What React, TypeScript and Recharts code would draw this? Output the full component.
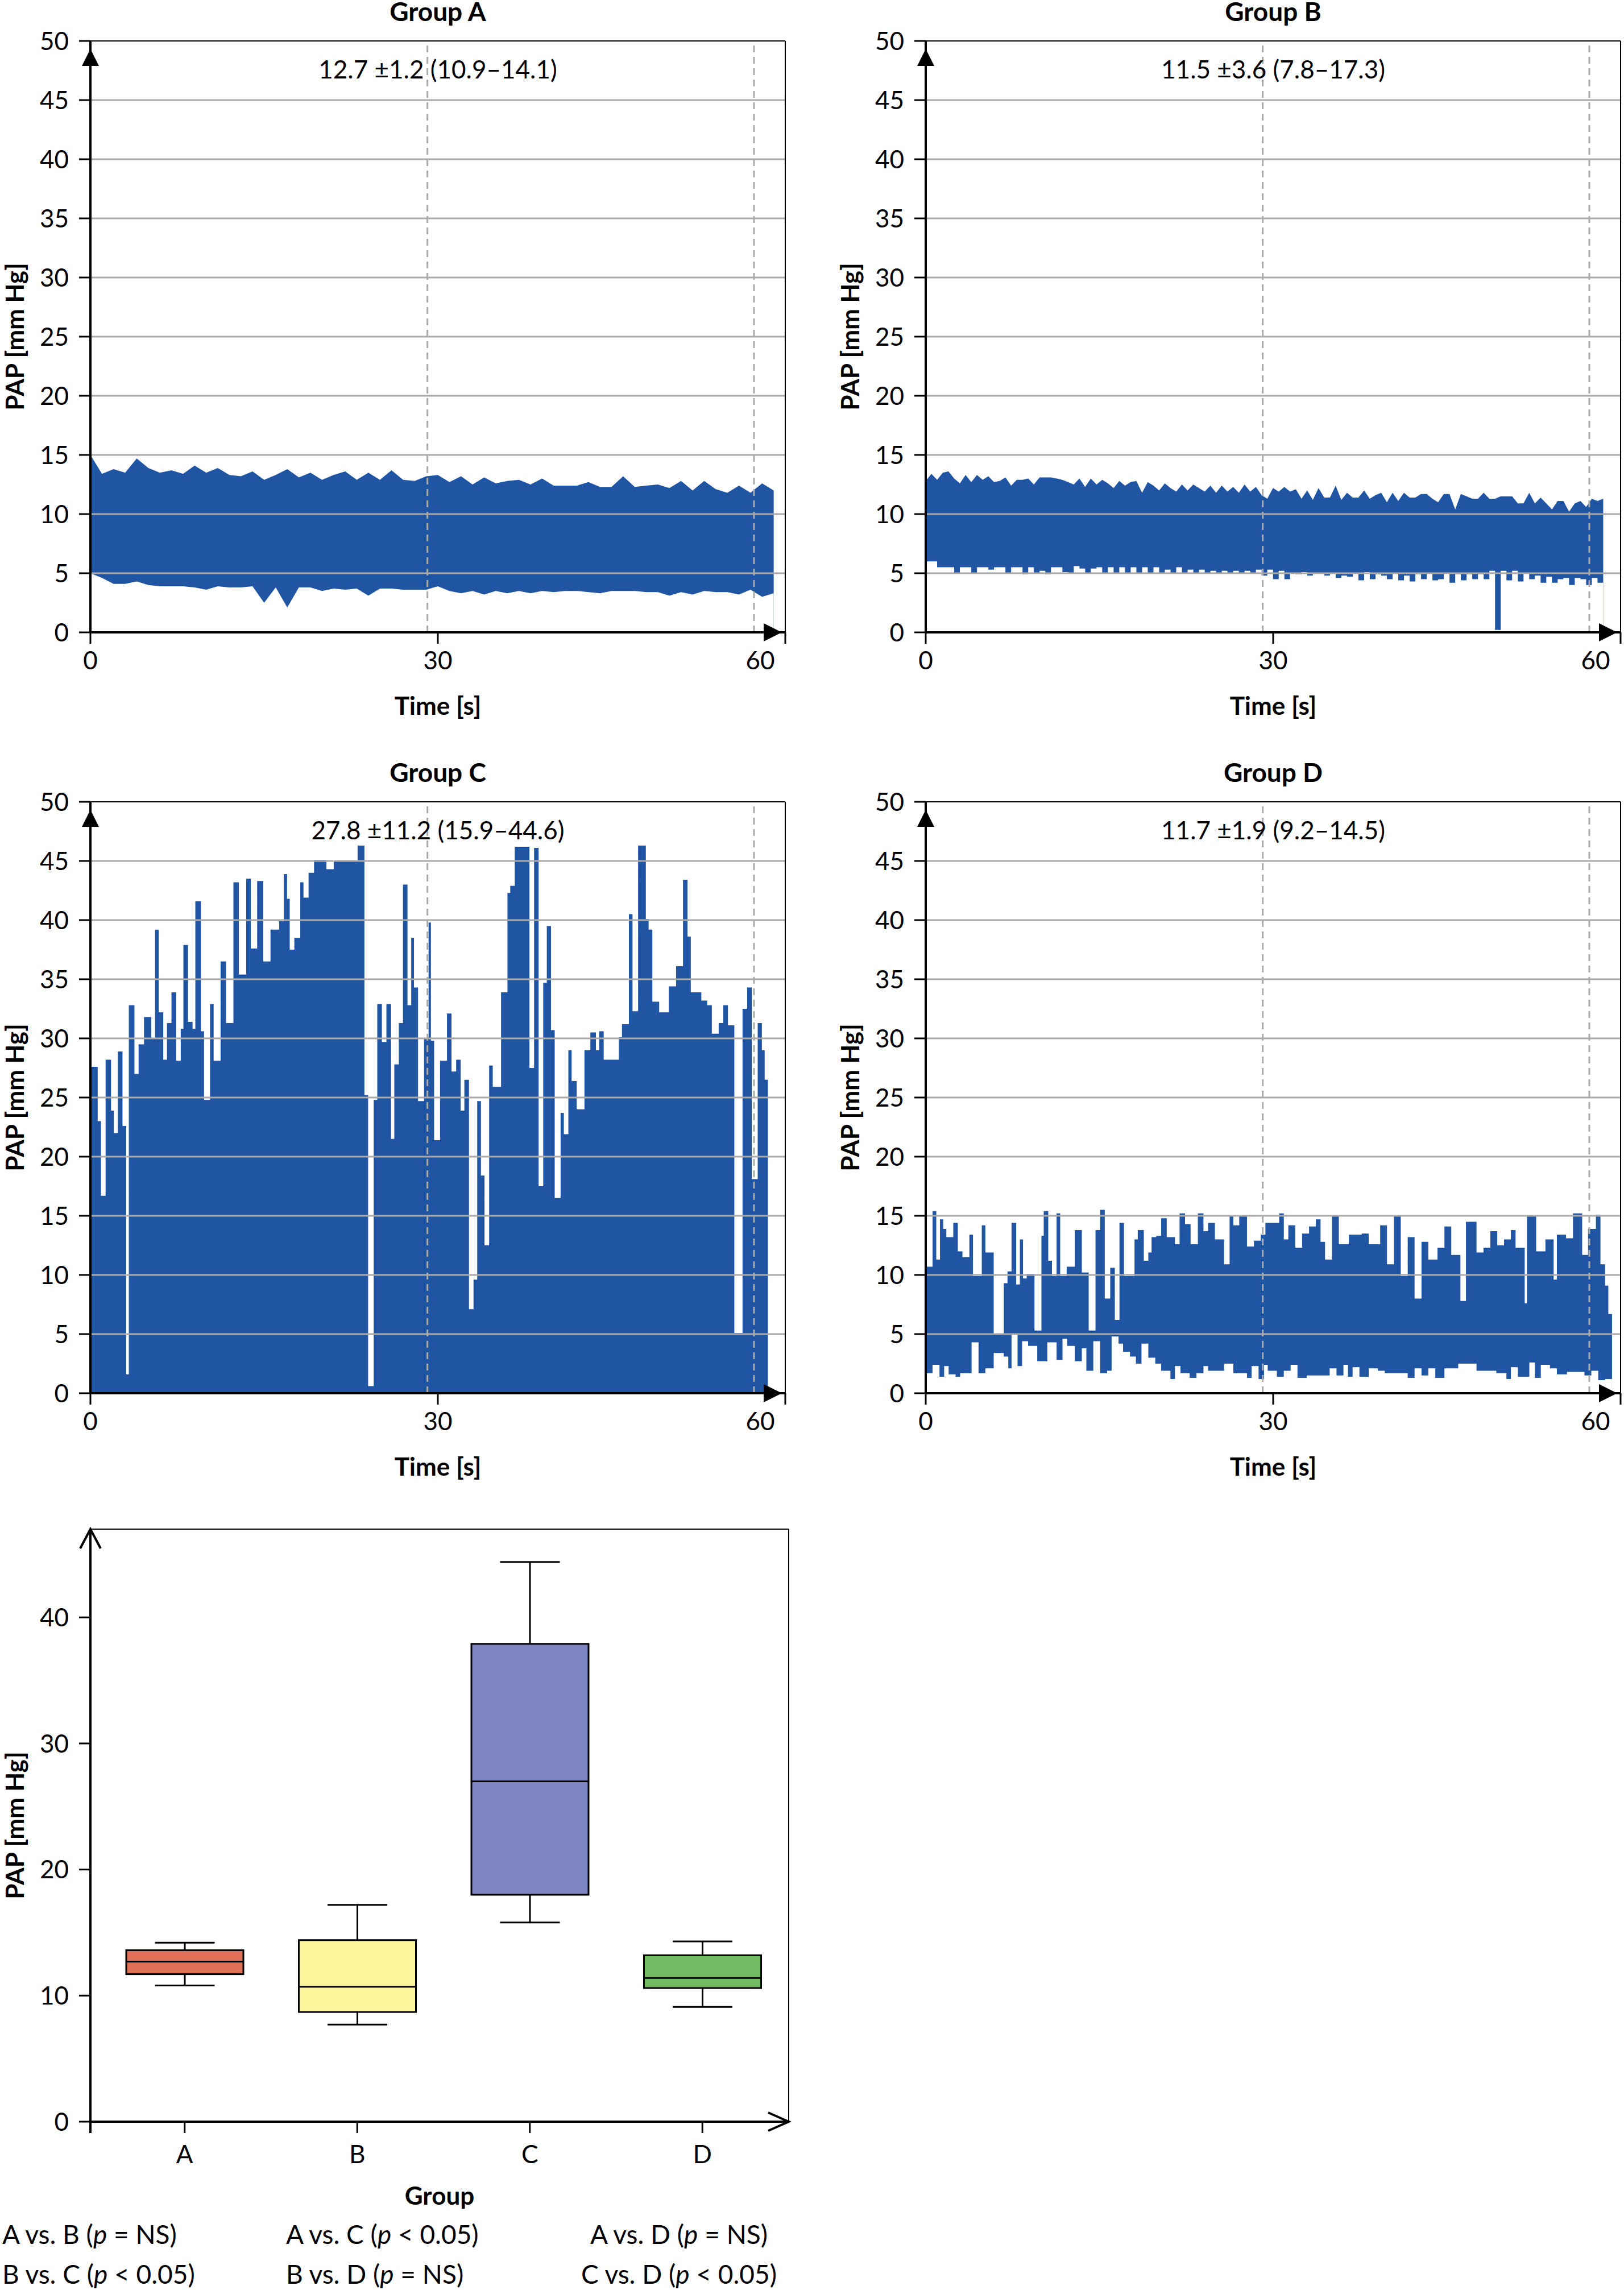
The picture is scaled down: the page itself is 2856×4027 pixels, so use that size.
import React from "react"
import { ComposedChart, Area, Bar, XAxis, YAxis, ReferenceLine } from "recharts"

const BLUE = "#1f55a3"
const GRID = "#aaaaaa"
const FONT = "Lato, 'Open Sans', sans-serif"
const FS = 44

// ---------- data ----------
const timeTicks = [0, 30, 60]
const papTicks = [0, 5, 10, 15, 20, 25, 30, 35, 40, 45, 50]
const gridLevels = [5, 10, 15, 20, 25, 30, 35, 40, 45]
const dashedTimes = [29.1, 57.3]

// Group A, one sample per second
const aHigh = [15.0, 13.4, 13.8, 13.5, 14.7, 13.9, 13.5, 13.7, 13.4, 14.1,
  13.5, 13.9, 13.3, 13.2, 13.6, 12.9, 13.3, 13.8, 13.1, 13.5,
  12.9, 13.3, 13.6, 12.9, 13.5, 12.9, 13.7, 12.9, 12.8, 13.2,
  13.3, 12.7, 13.2, 12.5, 13.1, 12.6, 12.8, 12.9, 12.5, 13.0,
  12.4, 12.4, 12.4, 12.7, 12.3, 12.3, 13.2, 12.3, 12.4, 12.5,
  12.2, 12.8, 12.0, 12.8, 12.1, 11.8, 12.4, 11.8, 12.6, 12.0]
const aLow = [5.0, 4.6, 4.1, 4.1, 4.3, 4.0, 3.9, 3.9, 3.9, 3.8,
  3.6, 3.9, 3.8, 3.8, 3.9, 2.5, 3.8, 2.1, 3.8, 3.8,
  3.5, 3.7, 3.6, 3.7, 3.1, 3.7, 3.7, 3.6, 3.6, 3.6,
  3.9, 3.5, 3.3, 3.5, 3.2, 3.5, 3.3, 3.5, 3.3, 3.5,
  3.4, 3.5, 3.5, 3.4, 3.3, 3.5, 3.5, 3.5, 3.4, 3.4,
  3.1, 3.4, 3.2, 3.5, 3.4, 3.4, 3.2, 3.6, 3.0, 3.3]

// Group B, 120 samples over 58.5 s
const bHigh = [12.8, 13.4, 12.9, 13.5, 13.6, 13.0, 12.6, 13.3, 12.7, 13.3,
  12.9, 13.2, 12.7, 12.8, 13.1, 12.4, 12.9, 12.9, 13.0, 12.5,
  13.1, 13.1, 13.1, 13.0, 12.9, 12.7, 12.5, 13.0, 12.3, 13.0,
  12.5, 12.9, 12.6, 12.2, 12.8, 12.4, 12.7, 12.8, 11.8, 12.7,
  12.4, 12.0, 12.6, 12.2, 11.9, 12.5, 12.0, 12.5, 12.2, 11.9,
  12.4, 11.8, 12.4, 11.9, 12.3, 11.8, 12.5, 11.9, 12.3, 11.6,
  11.3, 12.2, 11.9, 12.3, 11.9, 12.1, 11.3, 12.0, 11.2, 12.2,
  11.4, 11.4, 12.4, 11.2, 11.8, 11.4, 11.4, 12.0, 11.3, 11.6,
  11.8, 11.0, 11.8, 11.1, 11.8, 11.4, 11.4, 11.7, 11.7, 11.3,
  11.0, 11.7, 11.7, 10.4, 11.7, 11.5, 11.3, 11.3, 11.8, 11.3,
  11.3, 11.5, 11.5, 11.5, 10.9, 10.9, 11.8, 10.9, 11.4, 10.9,
  10.4, 11.1, 11.1, 10.2, 10.9, 11.1, 10.6, 11.3, 11.1, 11.3]
const bLow = [6.0, 6.0, 5.5, 5.5, 5.5, 5.0, 5.5, 5.5, 5.0, 5.5,
  5.5, 5.3, 5.5, 5.5, 5.0, 5.5, 5.5, 4.9, 5.5, 5.0,
  5.2, 4.9, 5.5, 5.5, 5.1, 5.0, 5.6, 5.4, 5.0, 5.4,
  5.5, 5.0, 5.5, 5.0, 5.5, 5.0, 5.5, 5.0, 5.5, 5.0,
  5.5, 5.0, 5.3, 5.0, 5.5, 5.0, 5.3, 5.0, 5.3, 5.0,
  5.2, 5.0, 5.2, 5.0, 5.2, 5.0, 5.2, 5.0, 5.3, 4.8,
  5.3, 4.5, 5.2, 4.5, 5.0, 4.9, 5.1, 4.8, 5.0, 5.0,
  4.8, 5.0, 4.6, 4.8, 4.7, 5.0, 4.4, 5.1, 4.5, 4.9,
  4.8, 4.5, 5.0, 4.4, 4.8, 4.3, 4.9, 4.5, 5.0, 4.4,
  4.5, 5.0, 4.2, 4.9, 4.4, 4.9, 4.5, 4.9, 4.5, 5.2,
  0.2, 5.2, 4.4, 5.2, 4.3, 5.0, 4.5, 4.8, 4.2, 4.7,
  4.2, 4.5, 4.6, 4.0, 4.6, 4.5, 4.0, 4.6, 4.2, 4.2]

// Group C, [start time s, value]
const cSteps = [[0, 27.6], [0.63, 23], [0.91, 16.7], [1.31, 28.2], [1.78, 23.9], [2.02, 22], [2.37, 28.9], [2.77, 22.6],
  [3.09, 1.6], [3.32, 32.8], [3.8, 27], [4.16, 29.5], [4.63, 31.8], [5.26, 30], [5.58, 39.2], [5.9, 32.2], [6.29, 28.2],
  [6.61, 31.3], [7.0, 33.9], [7.4, 28.1], [7.8, 30.8], [8.03, 37.9], [8.43, 31.4], [8.82, 30.8], [9.06, 41.6], [9.54, 30.6],
  [9.81, 24.8], [10.33, 32.9], [10.64, 28.1], [11.24, 36.5], [11.71, 31.3], [12.35, 43.2], [12.82, 35.4], [13.45, 43.5],
  [13.85, 37.6], [14.4, 43.3], [14.92, 36.5], [15.55, 39.2], [16.3, 39.9], [16.7, 43.9], [16.98, 41.8], [17.21, 37.5],
  [17.61, 38.5], [18.12, 43.2], [18.4, 41.9], [18.84, 44], [19.31, 45.1], [20.38, 44.3], [21.01, 45], [23.07, 46.3],
  [23.66, 25.2], [23.98, 0.6], [24.46, 24.8], [24.77, 32.9], [25.17, 29.7], [25.56, 32.9], [25.96, 21.5], [26.24, 27.8],
  [26.63, 31.3], [26.99, 43], [27.38, 32.8], [27.7, 38.5], [27.94, 34.3], [28.29, 24.7], [28.81, 30], [29.2, 39.8],
  [29.4, 29.8], [29.68, 21.4], [30.19, 28.1], [30.79, 32.1], [31.18, 27.2], [31.58, 28.2], [31.97, 23.9], [32.29, 26.5],
  [32.69, 7.1], [33.08, 9.6], [33.4, 24.7], [33.72, 18.4], [34.03, 12.5], [34.43, 27.7], [34.74, 25.9], [35.46, 33.9],
  [36.01, 42.3], [36.25, 42.9], [36.64, 46.2], [37.91, 27.5], [38.31, 46.1], [38.7, 17.5], [39.1, 34.7], [39.41, 39.5],
  [39.77, 30.7], [40.09, 16.5], [40.6, 23.7], [40.88, 21.9], [41.27, 29], [41.55, 26.4], [41.99, 24], [42.66, 29],
  [43.17, 30.5], [43.65, 29], [43.93, 30.6], [44.32, 28.2], [45.63, 30.1], [45.9, 31.2], [46.5, 40.5], [46.81, 32.3],
  [47.29, 46.3], [47.96, 40.1], [48.2, 39.2], [48.52, 33.1], [49.11, 32.2], [49.94, 34.4], [50.57, 36.1], [51.17, 43.4],
  [51.56, 38.6], [51.84, 33.9], [52.75, 33.2], [53.26, 32.8], [53.66, 30.4], [54.25, 31.3], [54.65, 32.8], [55.05, 31.1],
  [55.6, 5.1], [56.31, 32.5], [56.71, 34.3], [57.11, 18.1], [57.62, 31.3], [57.98, 29], [58.22, 26.5], [58.5, 26.5]]

// Group D, [start time s, value]
const dHigh = [[0, 10.7], [0.59, 15.4], [0.91, 11.3], [1.23, 14.7], [1.51, 13.9], [1.78, 13.2], [2.38, 14.4], [2.77, 12],
  [3.17, 11.5], [3.77, 13.4], [4.08, 9.9], [4.84, 14.2], [5.15, 11.9], [5.87, 5.0], [6.74, 9.3], [7.06, 10.3], [7.41, 14.4],
  [7.81, 9.2], [8.13, 13], [8.4, 9.7], [8.72, 10.1], [9.39, 5.3], [9.99, 13.3], [10.19, 15.4], [10.58, 11.2], [10.9, 9.9],
  [11.3, 15.2], [11.61, 9.9], [12.17, 10.7], [12.88, 13.8], [13.48, 10.2], [14.07, 5.3], [14.66, 13.8], [15.06, 15.5],
  [15.46, 8.0], [15.93, 10.6], [16.33, 6.2], [16.73, 14.4], [17.12, 9.9], [18.03, 13], [18.31, 13.8], [18.83, 11.2],
  [19.22, 11.9], [19.5, 13.2], [19.9, 13.3], [20.33, 14.8], [20.81, 13.2], [21.52, 12.6], [21.92, 15.2], [22.39, 14.3],
  [22.87, 12.6], [23.5, 15.2], [23.98, 13.7], [24.38, 14.4], [24.97, 13], [25.76, 10.9], [26.24, 15], [26.56, 14.2],
  [27.07, 15], [27.74, 12.4], [28.34, 12.9], [28.93, 13.4], [29.33, 14.4], [30.52, 15.2], [30.92, 13], [31.31, 14.2],
  [31.91, 12.3], [32.5, 13.5], [33.1, 14.1], [33.69, 14.7], [34.09, 12.8], [34.48, 11.3], [35.08, 15], [35.67, 12.6],
  [36.54, 13.4], [37.65, 13.5], [38.25, 12.6], [39.24, 14.2], [39.83, 10.9], [40.43, 15], [41.02, 9.9], [41.62, 13.2],
  [42.21, 8.0], [42.81, 12.8], [43.4, 11.3], [44.19, 12.3], [44.79, 14.1], [45.38, 11.7], [46.17, 7.8], [46.65, 14.5],
  [47.56, 11.9], [48.16, 12.3], [48.75, 13.7], [49.35, 12.5], [49.94, 13], [50.53, 13.8], [50.93, 12.3], [51.72, 7.6],
  [51.92, 15], [52.71, 12], [53.51, 13], [54.22, 9.6], [54.5, 13.4], [55.29, 13.1], [55.89, 15.2], [56.68, 11.7],
  [57.19, 13.9], [57.87, 15.1], [58.26, 10.9], [58.66, 9.1], [58.94, 6.7], [59.26, 6.7]]
const dLow = [[0, 1.7], [0.59, 2.4], [1.19, 1.4], [1.59, 2.3], [1.98, 1.6], [2.58, 1.4], [2.97, 1.7], [3.96, 4.3],
  [4.56, 1.7], [5.15, 2.1], [5.87, 3.4], [6.74, 3.1], [7.13, 2.1], [7.41, 5.0], [7.93, 2.3], [8.32, 4.4], [8.84, 4.0],
  [9.63, 2.7], [10.5, 4.3], [11.3, 2.8], [11.81, 4.6], [12.21, 4.0], [12.88, 2.7], [13.48, 3.8], [13.87, 1.9], [14.47, 4.4],
  [15.06, 1.7], [15.66, 1.9], [16.05, 4.8], [16.65, 4.2], [17.04, 3.5], [17.64, 3.1], [18.15, 2.5], [18.63, 4.2],
  [19.22, 3.0], [19.82, 2.5], [20.33, 1.9], [21.13, 1.2], [21.52, 2.3], [22.0, 1.7], [22.79, 1.3], [23.38, 1.7],
  [23.98, 2.3], [24.38, 1.9], [25.76, 2.5], [26.56, 1.7], [27.74, 1.3], [28.14, 2.3], [28.74, 1.2], [29.21, 2.4],
  [29.53, 1.9], [30.32, 1.4], [30.92, 1.9], [31.51, 2.4], [32.1, 1.3], [32.9, 1.5], [34.88, 2.1], [35.47, 1.5],
  [36.07, 2.4], [36.46, 1.4], [36.86, 2.2], [37.45, 1.4], [38.25, 2.1], [39.04, 1.9], [39.64, 1.7], [41.62, 1.3],
  [42.21, 2.1], [42.81, 1.5], [43.4, 2.1], [44.0, 1.3], [44.79, 2.1], [45.98, 2.5], [47.56, 1.9], [49.27, 1.7],
  [50.14, 1.2], [50.53, 2.2], [51.13, 1.4], [52.12, 2.6], [52.6, 1.3], [53.11, 2.4], [53.9, 2.1], [54.5, 1.6],
  [55.37, 1.8], [56.88, 1.5], [57.47, 1.9], [58.07, 1.1], [58.66, 1.2], [59.26, 1.2]]

const groupStats = ["12.7 ±1.2 (10.9–14.1)", "11.5 ±3.6 (7.8–17.3)", "27.8 ±11.2 (15.9–44.6)", "11.7 ±1.9 (9.2–14.5)"]

// box plot
const boxGroups = ["A", "B", "C", "D"]
const boxQ1 = [11.7, 8.7, 18.0, 10.6]
const boxQ3 = [13.6, 14.4, 37.9, 13.2]
const boxMedian = [12.7, 10.7, 27.0, 11.4]
const boxMin = [10.8, 7.7, 15.8, 9.1]
const boxMax = [14.2, 17.2, 44.4, 14.3]
const boxColors = ["#e07057", "#fdf59b", "#7e86c1", "#72bb63"]
const boxTicks = [0, 10, 20, 30, 40]

const comparisons = [
  ["A vs. B (", "p", " = NS)"], ["A vs. C (", "p", " < 0.05)"], ["A vs. D (", "p", " = NS)"],
  ["B vs. C (", "p", " < 0.05)"], ["B vs. D (", "p", " = NS)"], ["C vs. D (", "p", " < 0.05)"],
]

// ---------- helpers ----------
const toRows = (pairs: number[][]) => pairs.map(([t, v]) => ({ t, v }))
const seriesRows = (vals: number[], end: number) =>
  vals.map((v, i) => ({ t: (i * end) / (vals.length - 1), v }))

const YW = 159
const MT = 72
const XH = 120
const PH = 1040

const XTick = (p: any) => {
  const last = p.payload.value === 60
  return (
    <text x={last ? p.x - 44 : p.x} y={p.y + 10} dy={FS * 0.75} textAnchor="middle"
      fontSize={FS} fontFamily={FONT} fill="#000">{p.payload.value}</text>
  )
}

function Triangles({ w, h }: { w: number; h: number }) {
  return (
    <svg width={w} height={h} style={{ position: "absolute", left: 0, top: 0, overflow: "visible" }}>
      <polygon points={`0,14 -15,44 15,44`} fill="#000" />
      <polygon points={`${w - 6},${h} ${w - 38},${h - 16} ${w - 38},${h + 16}`} fill="#000" />
    </svg>
  )
}

function TimePanel({ left, top, width, title, stat, children }: any) {
  return (
    <>
      <div style={{ position: "absolute", left, top: top - 74, width, textAlign: "center", fontFamily: FONT, fontSize: 46, fontWeight: 700, lineHeight: "44px" }}>{title}</div>
      <div style={{ position: "absolute", left: left - 134 - 600, top: top + PH / 2 - 24, width: 1200, textAlign: "center", transform: "rotate(-90deg)", fontFamily: FONT, fontSize: FS, fontWeight: 700, lineHeight: "48px" }}>PAP [mm Hg]</div>
      <div style={{ position: "absolute", left, top: top + PH + 104, width, textAlign: "center", fontFamily: FONT, fontSize: FS, fontWeight: 700, lineHeight: "48px" }}>Time [s]</div>
      <div style={{ position: "absolute", left: left - YW, top: top - MT }}>
        <ComposedChart width={YW + width + 40} height={MT + PH + XH + 40} margin={{ top: MT, right: 40, left: 0, bottom: 40 }}>
          <XAxis type="number" dataKey="t" domain={[0, 60]} ticks={timeTicks} interval={0} height={XH} allowDataOverflow
            axisLine={false} tickSize={20} tickLine={{ stroke: "#000", strokeWidth: 3 }} tick={XTick} />
          <YAxis type="number" domain={[0, 50]} ticks={papTicks} interval={0} width={YW} allowDataOverflow
            axisLine={false} tickSize={20} tickMargin={18} tickLine={{ stroke: "#000", strokeWidth: 3 }}
            tick={{ fill: "#000", fontSize: FS, fontFamily: FONT }} />
          {children}
          {gridLevels.map(y => <ReferenceLine key={y} y={y} stroke={GRID} strokeWidth={3} />)}
          {dashedTimes.map(x => <ReferenceLine key={x} x={x} stroke={GRID} strokeWidth={3} strokeDasharray="12 8" />)}
          <ReferenceLine y={50} stroke="#000" strokeWidth={2} />
          <ReferenceLine x={60} stroke="#000" strokeWidth={2} />
          <ReferenceLine x={0} stroke="#000" strokeWidth={4} />
          <ReferenceLine y={0} stroke="#000" strokeWidth={4} />
          <ReferenceLine y={47.6} stroke="none"
            label={{ value: stat, position: "center", fill: "#000", fontSize: FS, fontFamily: FONT }} />
        </ComposedChart>
        <div style={{ position: "absolute", left: YW, top: MT }}>
          <Triangles w={width} h={PH} />
        </div>
      </div>
    </>
  )
}

const bandSeries = (hi: any[], lo: any[], hiType: any, loType: any) => [
  <Area key="hi" data={hi} dataKey="v" type={hiType} fill={BLUE} fillOpacity={1} stroke="none" isAnimationActive={false} />,
  <Area key="lo" data={lo} dataKey="v" type={loType} fill="#fff" fillOpacity={1} stroke="none" isAnimationActive={false} />,
]

const BoxShape = (p: any) => {
  const { x, y, width, height, payload } = p
  const ppu = height / (payload.q3 - payload.q1)
  const yOf = (v: number) => y + (payload.q3 - v) * ppu
  const cx = x + width / 2
  const cap = 105
  return (
    <g stroke="#000" strokeWidth={3}>
      <line x1={cx} x2={cx} y1={yOf(payload.max)} y2={y} />
      <line x1={cx} x2={cx} y1={y + height} y2={yOf(payload.min)} />
      <line x1={cx - cap / 2} x2={cx + cap / 2} y1={yOf(payload.max)} y2={yOf(payload.max)} />
      <line x1={cx - cap / 2} x2={cx + cap / 2} y1={yOf(payload.min)} y2={yOf(payload.min)} />
      <rect x={x} y={y} width={width} height={height} fill={payload.color} />
      <line x1={x} x2={x + width} y1={yOf(payload.median)} y2={yOf(payload.median)} />
    </g>
  )
}

function BoxPanel() {
  const left = 159, top = 2689, width = 1228, h = 1042
  const data = boxGroups.map((g, i) => ({
    g, box: [boxQ1[i], boxQ3[i]], q1: boxQ1[i], q3: boxQ3[i], median: boxMedian[i],
    min: boxMin[i], max: boxMax[i], color: boxColors[i],
  }))
  return (
    <>
      <div style={{ position: "absolute", left: left - 134 - 600, top: top + h / 2 - 24, width: 1200, textAlign: "center", transform: "rotate(-90deg)", fontFamily: FONT, fontSize: FS, fontWeight: 700, lineHeight: "48px" }}>PAP [mm Hg]</div>
      <div style={{ position: "absolute", left, top: top + h + 105, width, textAlign: "center", fontFamily: FONT, fontSize: FS, fontWeight: 700, lineHeight: "48px" }}>Group</div>
      <div style={{ position: "absolute", left: left - YW, top: top - 10 }}>
        <ComposedChart data={data} width={YW + width + 40} height={10 + h + XH + 20} margin={{ top: 10, right: 40, left: 0, bottom: 20 }}>
          <XAxis dataKey="g" height={XH} axisLine={false} tickSize={20} tickMargin={22} interval={0} padding={{ left: 14, right: 0 }}
            tickLine={{ stroke: "#000", strokeWidth: 3 }} tick={{ fill: "#000", fontSize: FS, fontFamily: FONT }} />
          <YAxis type="number" domain={[0, 47]} ticks={boxTicks} width={YW} allowDataOverflow axisLine={false}
            tickSize={20} tickMargin={18} tickLine={{ stroke: "#000", strokeWidth: 3 }}
            tick={{ fill: "#000", fontSize: FS, fontFamily: FONT }} />
          <Bar dataKey="box" barSize={206} shape={BoxShape} isAnimationActive={false} />
        </ComposedChart>
        <svg width={width} height={h} style={{ position: "absolute", left: YW, top: 10, overflow: "visible" }}>
          <line x1={0} y1={0} x2={width} y2={0} stroke="#000" strokeWidth={2} />
          <line x1={width} y1={0} x2={width} y2={h} stroke="#000" strokeWidth={2} />
          <line x1={0} y1={0} x2={0} y2={h + 20} stroke="#000" strokeWidth={4} />
          <line x1={0} y1={h} x2={width} y2={h} stroke="#000" strokeWidth={4} />
          <polyline points="-18,34 0,0 18,34" fill="none" stroke="#000" strokeWidth={4} />
          <polyline points={`${width - 36},${h - 16} ${width},${h} ${width - 36},${h + 16}`} fill="none" stroke="#000" strokeWidth={4} />
        </svg>
      </div>
    </>
  )
}

export default function App() {
  const pw = 1222
  return (
    <div style={{ position: "absolute", left: 0, top: 0, width: 2856, height: 4027, background: "#fff", fontFamily: FONT }}>
      <TimePanel left={159} top={72} width={pw} title="Group A" stat={groupStats[0]}>
        {bandSeries(seriesRows(aHigh, 59), seriesRows(aLow, 59), "linear", "linear")}
      </TimePanel>
      <TimePanel left={1628} top={72} width={pw} title="Group B" stat={groupStats[1]}>
        {bandSeries(seriesRows(bHigh, 58.5), seriesRows(bLow, 58.5), "linear", "stepAfter")}
      </TimePanel>
      <TimePanel left={159} top={1410} width={pw} title="Group C" stat={groupStats[2]}>
        <Area data={toRows(cSteps)} dataKey="v" type="stepAfter" fill={BLUE} fillOpacity={1} stroke="none" isAnimationActive={false} />
      </TimePanel>
      <TimePanel left={1628} top={1410} width={pw} title="Group D" stat={groupStats[3]}>
        {bandSeries(toRows(dHigh), toRows(dLow), "stepAfter", "stepAfter")}
      </TimePanel>
      <BoxPanel />
      {comparisons.map((c, i) => {
        const col = i % 3
        const row = Math.floor(i / 3)
        const style: any = { position: "absolute", top: 3905 + row * 70, fontSize: 46, lineHeight: "48px", whiteSpace: "nowrap" }
        if (col === 0) style.left = 4
        if (col === 1) style.left = 503
        if (col === 2) { style.left = 1194 - 300; style.width = 600; style.textAlign = "center" }
        return <div key={i} style={style}>{c[0]}<i>{c[1]}</i>{c[2]}</div>
      })}
    </div>
  )
}
